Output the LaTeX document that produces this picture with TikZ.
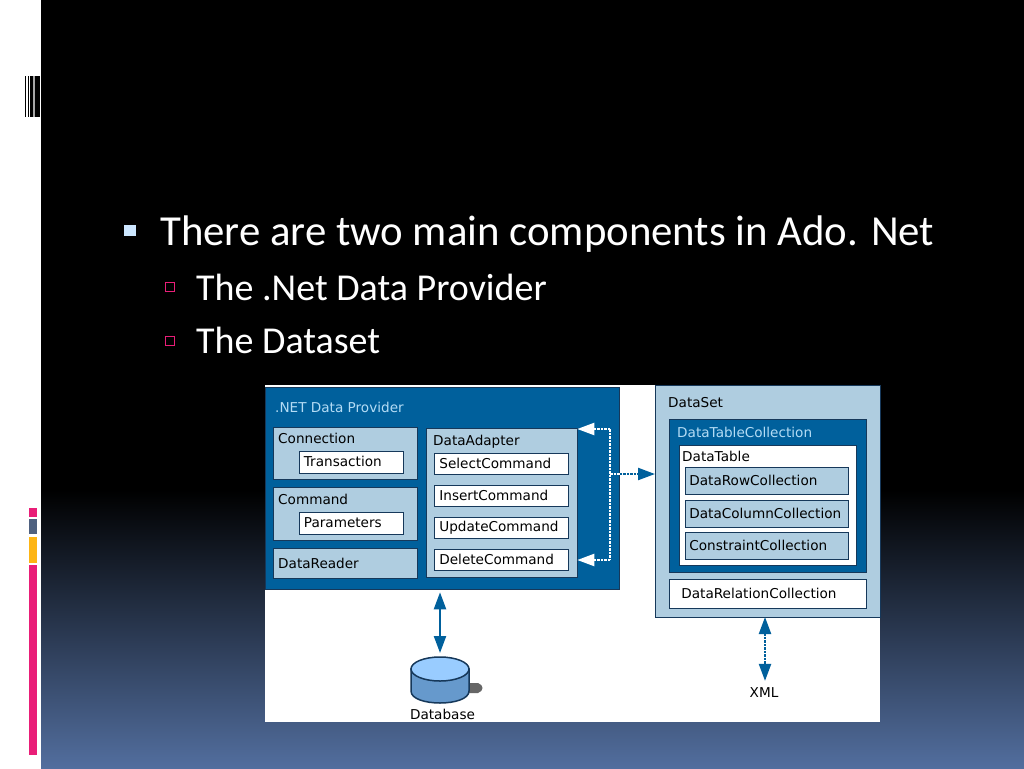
\documentclass[tikz,border=0pt]{standalone}
\usepackage{fontspec}
\setmainfont{Carlito}
\newfontfamily\diagfont{DejaVu Sans}
\usetikzlibrary{arrows.meta}
\definecolor{provblue}{HTML}{00609C}
\definecolor{provlight}{HTML}{AFCDE0}
\definecolor{headlight}{HTML}{B4DCF5}
\definecolor{boxline}{HTML}{16385A}
\definecolor{dbtop}{HTML}{99CCFF}
\definecolor{dbbody}{HTML}{6699CC}
\definecolor{barpink}{HTML}{E91E78}
\definecolor{barslate}{HTML}{4F6180}
\definecolor{baramber}{HTML}{FDB515}
\definecolor{slideblue}{HTML}{526E9E}
\definecolor{bulletblue}{HTML}{CCE6FF}
\tikzset{
  diagtext/.style={font=\diagfont\fontsize{13.6}{16}\selectfont},
  box/.style={draw=boxline, line width=0.8, inner sep=0, anchor=north west},
  bluebox/.style={box, fill=provblue},
  lightbox/.style={box, fill=provlight},
  whitebox/.style={box, fill=white},
  textbox/.style={diagtext, align=left, execute at begin node={\hyphenpenalty=10000\exhyphenpenalty=10000}},
  cmdbox/.style={whitebox, textbox, text width=124, inner xsep=5, minimum height=21},
  collbox/.style={lightbox, textbox, text width=154.5, inner xsep=4, minimum height=27},
  boxlabel/.style={diagtext, anchor=base west, inner sep=0, text=black},
  mainline/.style={anchor=base west, inner sep=0, text=white, font=\fontsize{42.8}{50}\selectfont},
  subline/.style={anchor=base west, inner sep=0, text=white, font=\fontsize{38}{45}\selectfont},
  whitelink/.style={white, line width=2.2, dash pattern=on 2.5 off 1},
  bluelink/.style={provblue, line width=2.2},
  tipone/.style={-{Triangle[length=17, width=12]}},
  tipboth/.style={{Triangle[length=17, width=12]}-{Triangle[length=17, width=12]}},
}
\begin{document}
\begin{tikzpicture}[x=1pt, y=-1pt]
  \useasboundingbox (0,0) rectangle (1024,768);

  % Slide background
  \fill[black] (0,0) rectangle (1024,768);
  \shade[top color=black, bottom color=slideblue] (41,490) rectangle (1024,768);
  \fill[white] (0,0) rectangle (41,768);

  % Bars on the white strip
  \foreach \xa/\xb in {25/26, 28.3/29.3, 30.3/33.3, 35/40} {
    \fill[black] (\xa,76) rectangle (\xb,117);
  }
  \fill[gray!70] (33.3,76) rectangle (35,117);
  \fill[barpink] (28.5,508) rectangle (37,517);
  \fill[barslate] (28.5,519) rectangle (37,534);
  \fill[baramber] (28.5,537) rectangle (37,563);
  \fill[barpink] (28.5,565) rectangle (37,755);

  % Bullets
  \fill[bulletblue] (124,224.5) rectangle (135.5,236);
  \draw[barpink, line width=1] (165.5,282.5) rectangle (174,291.5);
  \draw[barpink, line width=1] (165.5,336) rectangle (174,345);
  \node[mainline] (maintext) at (160,245) {There are two main components in Ado. Net};
  \node[subline] (subprovider) at (196,300) {The .Net Data Provider};
  \node[subline] (subdataset) at (196,353) {The Dataset};

  % Diagram ground
  \fill[white] (265,385) rectangle (880,722);

  % Data provider
  \node[bluebox, minimum width=354, minimum height=201.5] (provider) at (265,387) {};
  \node[boxlabel, text=headlight] (providerlabel) at (275,412) {.NET Data Provider};
  \node[lightbox, minimum width=144, minimum height=51.5] (connection) at (273,427) {};
  \node[boxlabel] (connectionlabel) at (278,443) {Connection};
  \node[whitebox, textbox, text width=94, inner xsep=5, minimum height=22] (transaction) at (298.5,450.5) {Transaction};
  \node[lightbox, minimum width=144, minimum height=52.5] (command) at (273,487) {};
  \node[boxlabel] (commandlabel) at (278,504) {Command};
  \node[whitebox, textbox, text width=94, inner xsep=5, minimum height=22] (parameters) at (298.5,511.5) {Parameters};
  \node[lightbox, minimum width=144, minimum height=30] (reader) at (273,548) {};
  \node[boxlabel] (readerlabel) at (278,568) {DataReader};

  % Adapter
  \node[lightbox, minimum width=151, minimum height=149] (adapter) at (425.5,428) {};
  \node[boxlabel] (adapterlabel) at (433,445) {DataAdapter};
  \node[cmdbox] (selectcmd) at (434,452.5) {SelectCommand};
  \node[cmdbox] (insertcmd) at (434,485) {InsertCommand};
  \node[cmdbox] (updatecmd) at (434,517) {UpdateCommand};
  \node[cmdbox] (deletecmd) at (434,549) {DeleteCommand};

  % Data set
  \node[lightbox, minimum width=224.5, minimum height=232] (dataset) at (655,385) {};
  \node[boxlabel] (datasetlabel) at (668,407) {DataSet};
  \node[bluebox, minimum width=197, minimum height=153.5] (tablecoll) at (669,418.5) {};
  \node[boxlabel, text=headlight] (tablecolllabel) at (677,437) {DataTableCollection};
  \node[whitebox, minimum width=176.5, minimum height=120.5] (datatable) at (679,444.5) {};
  \node[boxlabel] (datatablelabel) at (682,461) {DataTable};
  \node[collbox] (rowcoll) at (685,466.5) {DataRowCollection};
  \node[collbox] (colcoll) at (685,500) {DataColumnCollection};
  \node[collbox] (conscoll) at (685,532) {ConstraintCollection};
  \node[whitebox, textbox, text width=173, inner xsep=12, minimum height=29] (relcoll) at (669,579) {DataRelationCollection};

  % Database and XML
  \fill[gray!80!black] (465,683) -- (478,683) .. controls (484,685) and (484,691) .. (478,693) -- (465,693) -- cycle;
  \coordinate (database) at (440,657);
  \draw[boxline, line width=1.5, fill=dbbody] (411,669) -- (411,691) .. controls (411,707) and (469,707) .. (469,691) -- (469,669) -- cycle;
  \draw[boxline, line width=1.5, fill=dbtop] (440,669) ellipse [x radius=29, y radius=12];
  \node[boxlabel, anchor=base] (databaselabel) at (442.5,719) {Database};
  \node[boxlabel, anchor=base] (xmllabel) at (764,697) {XML};

  % Links in the provider
  \coordinate (railtop) at (610,429);
  \coordinate (railmid) at (610,474);
  \coordinate (railbottom) at (610,560);
  \draw[whitelink, tipone] (railtop) -- (railtop -| adapter.east);
  \draw[whitelink, tipone] (railbottom) -- (railbottom -| adapter.east);
  \draw[whitelink] (railtop) -- (railbottom);
  \draw[whitelink] (railmid) -- (railmid -| provider.east);
  \draw[bluelink, dash pattern=on 2.5 off 1, tipone] (railmid -| provider.east) -- (railmid -| dataset.west);

  % Links to database and XML
  \draw[bluelink, tipboth, shorten <=3, shorten >=4] (database |- provider.south) -- (database);
  \draw[bluelink, dash pattern=on 2.5 off 1, tipboth, shorten >=6] (765,617) -- (xmllabel.north -| 765,0);
\end{tikzpicture}
\end{document}
